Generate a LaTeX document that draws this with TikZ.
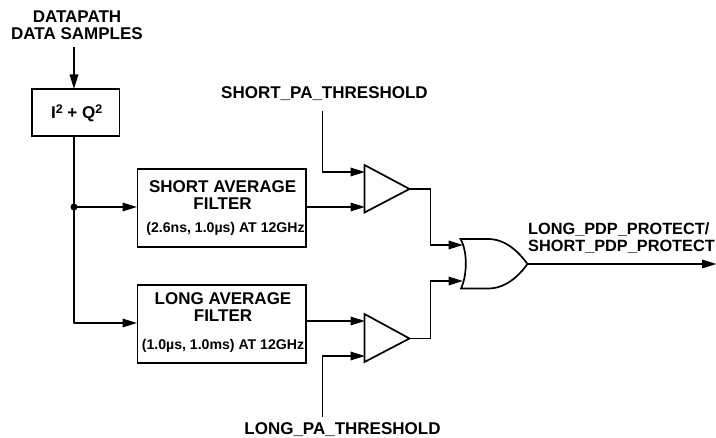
\documentclass[tikz,border=0pt]{standalone}
\usepackage{fontspec}
\setmainfont{Liberation Sans}
\usetikzlibrary{arrows.meta}
\newcommand{\supr}[1]{\raisebox{5pt}{\fontsize{12.5}{13}\selectfont #1}}
\tikzset{
  wire/.style={line width=1.7pt,line join=miter},
  arr/.style={wire,-{Triangle[length=14.5pt,width=8.5pt]},shorten >=-0.5pt},
  blockbox/.style={draw,line width=1.7pt,inner sep=0pt,anchor=north west},
  lbl/.style={inner sep=0pt,align=center,font=\fontsize{17}{17}\selectfont\bfseries},
  outlbl/.style={inner sep=0pt,align=left,font=\fontsize{16.3}{17}\selectfont\bfseries},
  smalllbl/.style={inner sep=0pt,font=\fontsize{14.1}{16}\selectfont\bfseries},
  gate/.style={line width=1.7pt,line join=miter}
}
\begin{document}
\begin{tikzpicture}[x=1pt,y=-1pt]
\useasboundingbox (0,0) rectangle (716,438);
% boxes
\node[blockbox,minimum width=87.5pt,minimum height=46.5pt] (sq) at (31,88.5) {};
\node[lbl] (sqt) at (76.7,113) {I\supr{2} + Q\supr{2}};
\node[blockbox,minimum width=168.5pt,minimum height=78pt] (sf) at (136.5,168) {};
\node[lbl] (sft) at (222.6,195.5) {SHORT AVERAGE\\FILTER};
\node[smalllbl] (sfs) at (225.5,229) {(2.6ns, 1.0µs) AT 12GHz};
\node[blockbox,minimum width=168.5pt,minimum height=77.5pt] (lf) at (136.5,284.5) {};
\node[lbl] (lft) at (223,307.5) {LONG AVERAGE\\FILTER};
\node[smalllbl] (lfs) at (223,346) {(1.0µs, 1.0ms) AT 12GHz};
% labels
\node[lbl] (dp) at (77,25.5) {DATAPATH\\DATA SAMPLES};
\node[lbl] (spa) at (324.5,94) {SHORT\_PA\_THRESHOLD};
\node[lbl] (lpa) at (342.5,430) {LONG\_PA\_THRESHOLD};
\node[outlbl,anchor=west] (out) at (528,238.5) {LONG\_PDP\_PROTECT/\\SHORT\_PDP\_PROTECT};
% comparators
\coordinate (c1a) at (364.5,172); \coordinate (c1b) at (364.5,207); \coordinate (c1o) at (409.5,189);
\coordinate (c2a) at (364.5,321); \coordinate (c2b) at (364.5,356); \coordinate (c2o) at (409.5,338.5);
\draw[gate] (364.5,165) -- (c1o) -- (364.5,212.5) -- cycle;
\draw[gate] (364.5,314) -- (c2o) -- (364.5,362) -- cycle;
% OR gate
\coordinate (ora) at (462.5,245); \coordinate (orb) at (462.5,281); \coordinate (oro) at (527.5,264);
\draw[gate] (460.5,239) -- (488,239) .. controls (505,239) and (518,251) .. (oro)
  .. controls (518,277) and (505,288.5) .. (488,288.5) -- (461,288.5)
  .. controls (467,276) and (468,252) .. cycle;
% endpoints
\coordinate (dps) at (74,47);
\coordinate (j) at (74,207);
\coordinate (spas) at (322.5,111);
\coordinate (lpas) at (322.5,417);
\coordinate (oe) at (716,264);
\coordinate (lj) at (74,323);
% connectors
\draw[arr] (dps) -- (sq.north -| dps);
\draw[wire] (sq.south -| j) -- (j);
\draw[wire,line cap=round] (j) -- (lj);
\draw[arr] (j) -- (sf.west |- j);
\draw[arr] (lj) -- (lf.west |- lj);
\fill (j) circle (3.5pt);
\draw[arr] (sf.east |- c1b) -- (c1b);
\draw[arr] (lf.east |- c2a) -- (c2a);
\draw[arr] (spas) |- (c1a);
\draw[arr] (lpas) |- (c2b);
\draw[arr] (c1o) -| (430.5,245) -- (ora);
\draw[arr] (c2o) -| (430.5,281) -- (orb);
\draw[arr] (oro) -- (oe);
\end{tikzpicture}
\end{document}
